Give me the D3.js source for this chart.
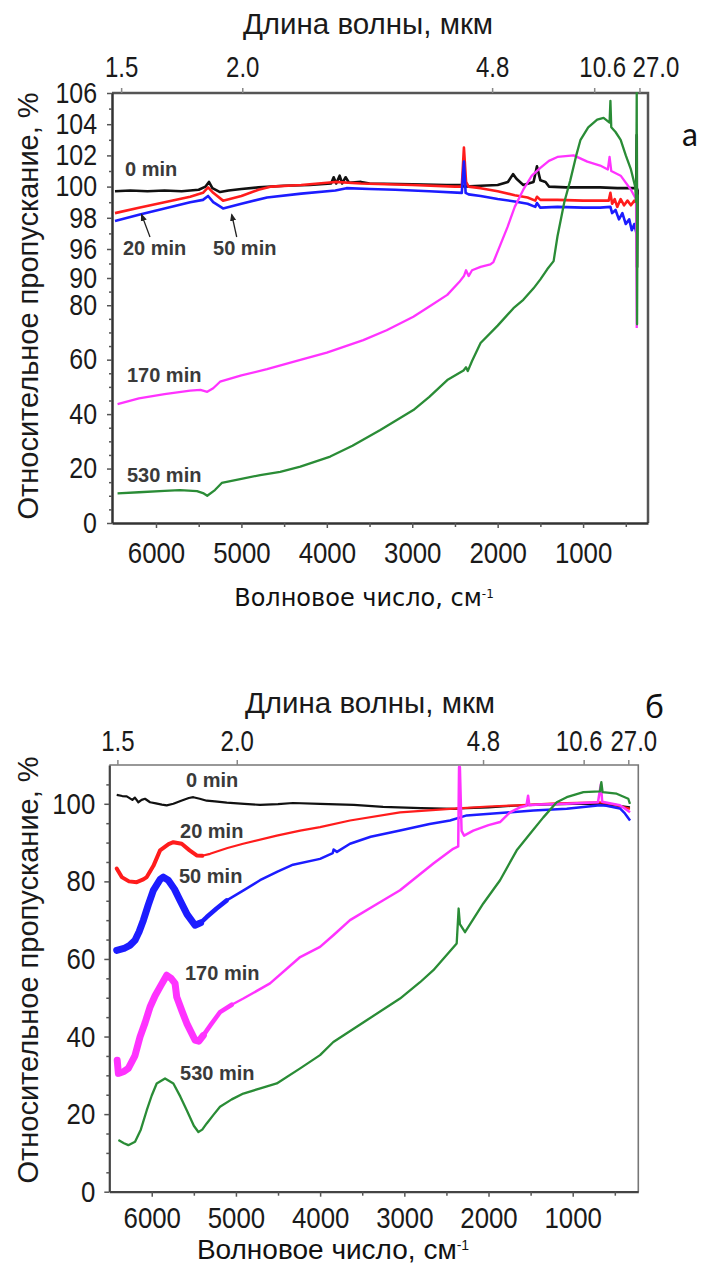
<!DOCTYPE html>
<html>
<head>
<meta charset="utf-8">
<script src="https://cdn.jsdelivr.net/npm/d3@7/dist/d3.min.js"></script>
<style>
  body { margin: 0; background: #fff; }
  svg { display: block; }
</style>
</head>
<body>
<svg id="chart" width="711" height="1269"></svg>
<script>
// ---------- Panel "а": relative transmittance vs wavenumber (cm^-1) ----------
const a_0min = [[6480,99.7],[6300,99.75],[6100,99.7],[5900,99.75],[5700,99.7],[5500,99.8],[5420,100.0],[5380,100.3],[5340,99.9],[5250,99.65],[5150,99.75],[5000,99.85],[4800,99.95],[4500,100.05],[4200,100.1],[3950,100.2],[3920,100.6],[3890,100.2],[3850,100.7],[3820,100.2],[3780,100.6],[3740,100.25],[3600,100.3],[3500,100.2],[3000,100.15],[2600,100.1],[2420,100.1],[2390,100.0],[2200,100.05],[2000,100.1],[1880,100.3],[1820,100.8],[1780,100.5],[1700,100.1],[1580,100.3],[1540,101.3],[1500,100.4],[1440,100.3],[1400,100.0],[1200,99.95],[1000,99.95],[800,99.95],[600,99.9],[450,99.9],[378,99.9],[372,103.3],[368,92.3],[362,99.8],[350,99.8]];
const a_20min = [[6480,98.3],[6200,98.65],[5900,99.0],[5600,99.35],[5450,99.6],[5390,99.95],[5330,99.6],[5215,99.1],[5000,99.4],[4800,99.8],[4650,100.0],[4300,100.1],[3900,100.3],[3600,100.2],[3000,100.1],[2500,100.0],[2420,100.0],[2395,102.5],[2370,100.3],[2340,100.0],[2200,99.9],[2000,99.7],[1800,99.45],[1650,99.3],[1560,99.1],[1540,99.35],[1500,99.15],[1300,99.15],[1000,99.1],[800,99.1],[700,99.1],[680,99.6],[660,98.9],[630,99.2],[600,98.7],[560,99.2],[520,98.8],[480,99.1],[440,98.8],[400,99.1],[370,98.9]];
const a_50min = [[6480,97.8],[6200,98.2],[5900,98.6],[5600,99.0],[5450,99.15],[5390,99.4],[5330,99.0],[5215,98.6],[5000,98.9],[4700,99.3],[4300,99.55],[3900,99.75],[3770,99.9],[3500,99.85],[3200,99.8],[2800,99.7],[2420,99.6],[2395,101.6],[2375,99.6],[2340,99.5],[2200,99.4],[2000,99.2],[1800,99.05],[1650,98.9],[1560,98.7],[1540,98.95],[1500,98.65],[1300,98.7],[1000,98.65],[800,98.65],[680,98.7],[660,98.3],[620,98.5],[580,97.9],[540,98.3],[500,97.6],[460,97.9],[430,97.2],[400,97.6],[375,97.0]];
const a_170min = [[6450,43.7],[6200,45.8],[5900,47.3],[5600,48.6],[5480,48.9],[5400,48.2],[5330,49.5],[5250,51.9],[5000,54.2],[4700,56.5],[4310,59.9],[4000,62.6],[3573,67.2],[3300,70.8],[2987,75.8],[2800,79.5],[2590,83.8],[2450,88.5],[2395,90.4],[2370,91.6],[2340,90.4],[2300,91.6],[2200,92.3],[2085,92.8],[2050,93.3],[1885,97.4],[1800,98.7],[1700,99.8],[1600,100.7],[1500,101.2],[1400,101.65],[1300,101.9],[1110,102.0],[950,101.6],[800,101.35],[710,101.1],[690,101.9],[670,101.0],[560,100.7],[440,99.8],[380,99.2],[372,71.6]];
const a_530min = [[6450,10.9],[6200,11.3],[5900,11.8],[5720,12.1],[5520,11.7],[5450,11.0],[5400,10.0],[5310,12.1],[5230,14.7],[5000,16.2],[4780,17.6],[4546,18.8],[4310,20.7],[3960,24.4],[3700,28.4],[3374,34.2],[2987,41.5],[2800,46.3],[2590,52.5],[2400,56.0],[2370,57.2],[2350,55.8],[2300,59.5],[2200,66.1],[2000,72.5],[1815,78.9],[1700,82.0],[1580,86.2],[1500,89.5],[1420,91.8],[1345,93.5],[1300,96.8],[1220,99.0],[1150,100.4],[1080,102.0],[1030,103.0],[940,103.8],[835,104.3],[760,104.4],[690,104.1],[680,105.5],[670,103.8],[620,103.5],[560,103.0],[500,102.0],[440,101.1],[390,100.0],[378,99.0],[372,106.0],[368,73.0],[362,99.5]];

const a_yMajor = [0, 20, 40, 60, 80, 90, 96, 98, 100, 102, 104, 106];
const a_yMinor = [5, 10, 15, 25, 30, 35, 45, 50, 55, 65, 70, 75, 85, 93, 97, 99, 101, 103, 105];
const a_curveLabels = ["0 min", "20 min", "50 min", "170 min", "530 min"];
const a_labelWn = [6363, 6387, 5332, 6340, 6340];
const a_labelT = [100.65, 94.76, 94.76, 51.8, 15.06];

// ---------- Panel "б" ----------
const b_0min = [[6416,102.3],[6350,102.0],[6297,101.9],[6230,101.0],[6200,101.6],[6159,100.4],[6120,101.0],[6080,101.3],[6020,100.4],[5950,100.1],[5880,99.8],[5822,99.6],[5743,100.0],[5650,100.8],[5560,101.5],[5506,101.7],[5430,101.3],[5347,100.8],[5250,100.6],[5109,100.3],[4900,100.0],[4714,99.7],[4500,99.9],[4322,100.2],[4001,100.0],[3600,99.7],[3252,99.2],[2800,98.9],[2400,98.7],[2340,98.8],[2000,99.1],[1700,99.5],[1400,99.8],[1000,100.0],[680,100.0],[500,99.6],[320,99.1]];
const b_20min = [[6416,83.3],[6356,81.1],[6270,80.0],[6178,79.8],[6100,80.5],[6059,81.1],[5980,84.0],[5901,88.0],[5800,89.6],[5743,90.1],[5644,89.7],[5550,88.0],[5466,86.7],[5400,86.6],[5307,87.1],[5100,88.6],[4915,89.7],[4515,91.8],[4237,93.1],[4001,94.0],[3645,95.7],[3051,97.8],[2457,98.7],[2000,99.3],[1665,99.6],[1200,100.1],[680,100.4],[500,99.8],[320,98.7]];
const b_50min = [[6416,62.2],[6330,62.7],[6260,63.5],[6198,64.8],[6150,67.0],[6099,70.0],[6040,74.0],[5981,77.7],[5900,80.5],[5862,81.1],[5803,80.3],[5730,78.0],[5664,75.1],[5580,71.5],[5486,68.7],[5420,69.3],[5347,70.8],[5230,73.0],[5109,75.1],[4900,77.8],[4714,80.3],[4500,82.6],[4322,84.3],[4001,85.8],[3850,87.3],[3840,88.2],[3800,87.6],[3645,89.7],[3400,91.5],[3051,93.1],[2700,94.8],[2457,95.7],[2259,97.0],[1863,97.6],[1467,98.3],[1071,98.7],[676,99.6],[600,99.5],[439,98.8],[380,97.5],[319,95.7]];
const b_170min = [[6410,33.9],[6396,30.5],[6330,31.0],[6278,31.8],[6200,35.0],[6139,39.9],[6080,43.5],[6020,47.6],[5960,50.5],[5901,52.8],[5822,55.8],[5770,55.0],[5723,53.7],[5703,50.2],[5640,46.5],[5584,43.4],[5486,39.1],[5440,38.8],[5387,40.3],[5300,43.0],[5189,46.3],[5050,48.2],[4912,49.8],[4595,53.7],[4237,60.5],[4001,63.1],[3843,66.1],[3645,70.0],[3300,74.5],[3051,77.7],[2655,84.6],[2420,88.4],[2360,89.0],[2350,109.5],[2340,109.5],[2320,93.0],[2290,91.8],[2181,93.1],[2000,94.5],[1863,95.3],[1745,97.8],[1626,99.1],[1550,99.5],[1530,102.1],[1515,99.6],[1400,99.8],[1071,100.0],[700,100.4],[665,105.1],[650,100.5],[439,99.6],[319,97.8]];
const b_530min = [[6396,13.3],[6330,12.5],[6278,12.0],[6198,12.9],[6130,16.0],[6059,21.0],[6000,24.8],[5941,27.9],[5842,29.2],[5743,27.9],[5660,24.5],[5584,21.0],[5500,17.0],[5446,15.4],[5400,16.0],[5347,17.6],[5260,20.0],[5189,21.9],[5050,23.8],[4912,25.3],[4700,26.7],[4515,27.9],[4237,31.8],[4001,35.2],[3843,38.6],[3447,44.2],[3051,49.8],[2813,54.0],[2655,57.1],[2378,64.0],[2355,73.0],[2340,69.0],[2279,66.9],[2062,74.3],[1863,80.3],[1665,88.0],[1507,92.3],[1349,96.5],[1190,100.4],[1071,101.7],[873,103.0],[676,103.2],[660,105.6],[645,103.0],[478,102.6],[340,101.3],[320,100.0]];

const b_yMajor = [0, 20, 40, 60, 80, 100];
const b_yMinor = [5, 10, 15, 25, 30, 35, 45, 50, 55, 65, 70, 75, 85, 90, 95, 105];
const b_curveLabels = ["0 min", "20 min", "50 min", "170 min", "530 min"];
const b_labelWn = [5593, 5664, 5676, 5605, 5664];
const b_labelT = [104.2, 91.3, 79.5, 54.5, 28.8];

// ---------- shared axis ticks ----------
const wnMajor = [6000, 5000, 4000, 3000, 2000, 1000];
const wnMinor = [5500, 4500, 3500, 2500, 1500, 500];
const wlTickLabels = ["1.5", "2.0", "4.8", "10.6", "27.0"];
const wlTickWn = [6408, 4990, 2065, 870, 340];

const seriesColors = ["#111111", "#ff1c1c", "#1c1cff", "#ff33ff", "#2a8c36"];

const svg = d3.select("#chart");
const textFont = "'Liberation Sans', Arial, sans-serif";

// squeeze tick numerals horizontally (condensed digits)
function condense(sel, k) {
  sel.each(function () {
    const w = this.getComputedTextLength();
    d3.select(this).attr("textLength", w * k).attr("lengthAdjust", "spacingAndGlyphs");
  });
}

function drawPanel(p) {
  const g = svg.append("g");
  const x = d3.scaleLinear().domain(p.xDomain).range([p.left, p.right]);
  const y = d3.scaleLinear().domain(p.yDomain).range(p.yRange);

  // frame (top and right sides)
  g.append("path")
    .attr("d", `M${p.left},${p.top}H${p.right}V${p.bottom}`)
    .attr("fill", "none").attr("stroke", p.frameColor).attr("stroke-width", p.frameWidth);

  // bottom axis: wavenumber
  const xAxis = g.append("g").attr("transform", `translate(0,${p.bottom})`)
    .call(d3.axisBottom(x).tickValues(wnMajor).tickSize(5).tickSizeOuter(0).tickPadding(p.xTickPad).tickFormat(d3.format("d")));
  g.append("g").attr("transform", `translate(0,${p.bottom})`)
    .call(d3.axisBottom(x).tickValues(wnMinor).tickSize(4).tickSizeOuter(0).tickFormat(""))
    .call(s => s.select(".domain").remove());

  // top axis: wavelength (µm) placed at matching wavenumbers
  const wlScale = d3.scaleOrdinal().domain(wlTickWn).range(wlTickLabels);
  const topAxis = g.append("g").attr("transform", `translate(0,${p.top})`)
    .call(d3.axisTop(x).tickValues(wlTickWn).tickSize(5).tickSizeOuter(0).tickPadding(p.topTickPad).tickFormat(d => wlScale(d)));
  topAxis.select(".domain").remove();
  topAxis.selectAll(".tick text").attr("dx", (d, i) => p.topLabelShift[i]);

  // left axis
  const yAxis = g.append("g").attr("transform", `translate(${p.left},0)`)
    .call(d3.axisLeft(y).tickValues(p.yMajor).tickSize(5).tickSizeOuter(0).tickPadding(p.yTickPad).tickFormat(d3.format("d")));
  g.append("g").attr("transform", `translate(${p.left},0)`)
    .call(d3.axisLeft(y).tickValues(p.yMinor).tickSize(3).tickSizeOuter(0).tickFormat(""))
    .call(s => s.select(".domain").remove());

  g.selectAll(".domain").attr("stroke", p.axisColor).attr("stroke-width", p.axisWidth);
  g.selectAll(".tick line").attr("stroke", "#555").attr("stroke-width", 1.5);
  topAxis.selectAll(".tick line").attr("stroke", "#888");
  g.selectAll(".tick text").attr("fill", "#1a1a1a").style("font-family", textFont);
  xAxis.selectAll(".tick text").style("font-size", "30px").call(condense, 0.86);
  yAxis.selectAll(".tick text").style("font-size", p.yTickSize + "px").call(condense, 0.86);
  topAxis.selectAll(".tick text").style("font-size", "30px").call(condense, 0.8);

  // curves
  const line = d3.line().x(d => x(d[0])).y(d => y(d[1]));
  const clip = "clip-" + p.id;
  g.append("clipPath").attr("id", clip).append("rect")
    .attr("x", p.left).attr("y", p.top - 1).attr("width", p.right - p.left).attr("height", p.bottom - p.top + 1);
  const curves = g.append("g").attr("clip-path", `url(#${clip})`);
  p.series.forEach((s, i) => {
    curves.append("path").datum(s).attr("d", line)
      .attr("fill", "none").attr("stroke", seriesColors[i])
      .attr("stroke-width", p.lineWidths[i]).attr("stroke-linejoin", "round");
    // broadened (noisy) high-wavenumber stretches drawn heavier
    p.thick[i].forEach(([wFrom, sw]) => {
      curves.append("path").datum(s.filter(d => d[0] >= wFrom)).attr("d", line)
        .attr("fill", "none").attr("stroke", seriesColors[i])
        .attr("stroke-width", sw).attr("stroke-linejoin", "round").attr("stroke-linecap", "round");
    });
  });

  // curve labels
  p.labels.forEach((t, i) => {
    g.append("text").attr("x", x(p.labelWn[i])).attr("y", y(p.labelT[i]))
      .text(t).attr("fill", "#3a3a3a")
      .style("font-family", textFont).style("font-weight", "bold").style("font-size", "20px");
  });

  // axis titles
  g.append("text").attr("x", p.topTitleX).attr("y", p.topTitleY).attr("text-anchor", "middle")
    .text("Длина волны, мкм").attr("fill", "#1a1a1a")
    .style("font-family", textFont).style("font-size", "29.5px");
  g.append("text")
    .attr("transform", `translate(${p.yTitleX},${p.yTitleY}) rotate(-90)`)
    .attr("text-anchor", "middle").attr("fill", "#1a1a1a")
    .style("font-family", textFont).style("font-size", "29px")
    .text("Относительное пропускание, %");
  const xt = g.append("text").attr("x", p.xTitleX).attr("y", p.xTitleY).attr("text-anchor", "middle")
    .attr("fill", "#111").style("font-family", p.xTitleFont).style("font-size", p.xTitleSize + "px");
  xt.append("tspan").text("Волновое число, см");
  xt.append("tspan").attr("dy", -p.xTitleSize * 0.33).style("font-size", (p.xTitleSize * 0.5) + "px").text("-1");

  // panel letter
  g.append("text").attr("x", p.letterX).attr("y", p.letterY).text(p.letter)
    .attr("fill", "#111").style("font-family", "Lato, 'Open Sans', sans-serif").style("font-size", "32px");

  return { x, y, g };
}

const A = drawPanel({
  id: "a", letter: "а", letterX: 682, letterY: 146,
  left: 112, right: 648, top: 93, bottom: 523,
  xDomain: [6515, 240], yDomain: [0, 90, 96, 106], yRange: [523, 278, 249, 93],
  yMajor: a_yMajor, yMinor: a_yMinor, yTickSize: 29,
  frameColor: "#555", frameWidth: 2.5, axisColor: "#333", axisWidth: 2.5,
  xTickPad: 14, topTickPad: 11, yTickPad: 10, topLabelShift: [0, 0, 0, 8, 16],
  series: [a_0min, a_20min, a_50min, a_170min, a_530min],
  lineWidths: [2.6, 2.6, 2.6, 2.3, 2.3], thick: [[], [], [], [], []],
  labels: a_curveLabels, labelWn: a_labelWn, labelT: a_labelT,
  topTitleX: 368, topTitleY: 34,
  yTitleX: 38, yTitleY: 306,
  xTitleX: 364, xTitleY: 606, xTitleFont: "'DejaVu Sans', Verdana, sans-serif", xTitleSize: 24
});

// arrows pointing from the "20 min" and "50 min" labels to their curves
const arrowsWn = [[6070, 6168], [5055, 5113]];
const arrowsT = [[96.77, 98.2], [96.77, 98.2]];
A.g.append("defs").append("marker").attr("id", "ah").attr("viewBox", "0 0 10 10")
  .attr("refX", 8).attr("refY", 5).attr("markerWidth", 6).attr("markerHeight", 6).attr("orient", "auto")
  .append("path").attr("d", "M0,1L10,5L0,9Z").attr("fill", "#222");
arrowsWn.forEach((w, i) => {
  A.g.append("line")
    .attr("x1", A.x(w[0])).attr("y1", A.y(arrowsT[i][0]))
    .attr("x2", A.x(w[1])).attr("y2", A.y(arrowsT[i][1]))
    .attr("stroke", "#222").attr("stroke-width", 1.3).attr("marker-end", "url(#ah)");
});

drawPanel({
  id: "b", letter: "б", letterX: 645, letterY: 718,
  left: 109.3, right: 638.3, top: 765, bottom: 1191.7,
  xDomain: [6504, 221], yDomain: [0, 110], yRange: [1191.7, 765],
  yMajor: b_yMajor, yMinor: b_yMinor, yTickSize: 30,
  frameColor: "#777", frameWidth: 1.6, axisColor: "#444", axisWidth: 2.2,
  xTickPad: 10, topTickPad: 9, yTickPad: 9, topLabelShift: [0, 0, 0, -5, 5],
  series: [b_0min, b_20min, b_50min, b_170min, b_530min],
  lineWidths: [2.2, 2.2, 2.5, 2.5, 2.3],
  thick: [[], [[5350, 4]], [[5050, 4.5], [5350, 7]], [[5050, 4.5], [5350, 7]], []],
  labels: b_curveLabels, labelWn: b_labelWn, labelT: b_labelT,
  topTitleX: 370, topTitleY: 713,
  yTitleX: 38, yTitleY: 970,
  xTitleX: 333, xTitleY: 1259, xTitleFont: textFont, xTitleSize: 28
});
</script>
</body>
</html>
